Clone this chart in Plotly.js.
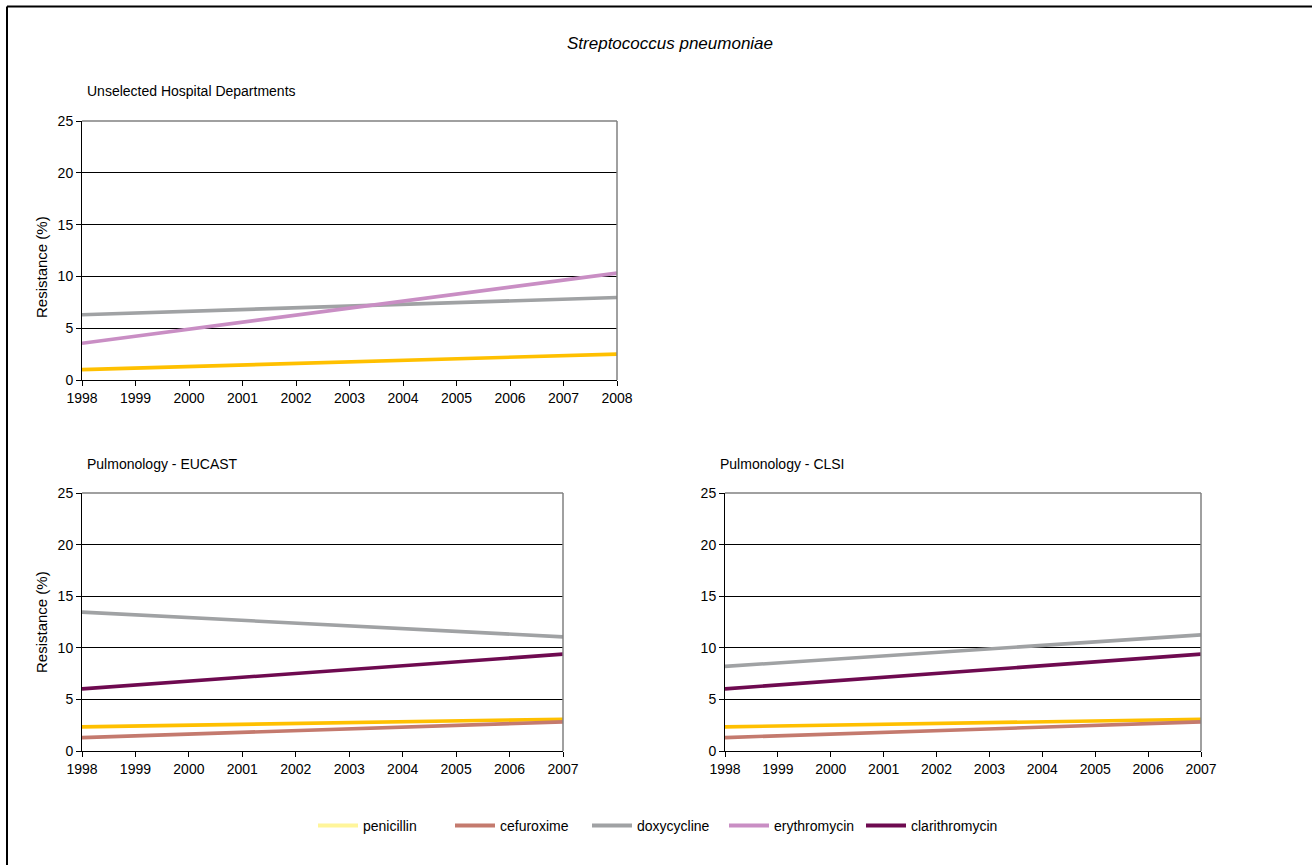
<!DOCTYPE html>
<html>
<head>
<meta charset="utf-8">
<script src="https://cdn.plot.ly/plotly-3.0.1.min.js"></script>
<style>
html,body{margin:0;padding:0;background:#fff;}
#chart{width:1312px;height:865px;}
</style>
</head>
<body>
<div id="chart"></div>
<script>
// ---- data ----
const yearsTop = [1998,1999,2000,2001,2002,2003,2004,2005,2006,2007,2008];
const yearsBottom = [1998,1999,2000,2001,2002,2003,2004,2005,2006,2007];

// Unselected Hospital Departments
const topPenicillin    = [1.0,1.15,1.3,1.45,1.6,1.75,1.9,2.05,2.2,2.35,2.5];
const topDoxycycline   = [6.3,6.47,6.63,6.8,6.97,7.13,7.3,7.47,7.63,7.8,7.97];
const topErythromycin  = [3.55,4.23,4.9,5.58,6.26,6.93,7.61,8.29,8.96,9.64,10.32];

// Pulmonology - EUCAST
const eucPenicillin     = [2.34,2.42,2.5,2.59,2.67,2.75,2.83,2.92,3.0,3.08];
const eucCefuroxime     = [1.3,1.47,1.64,1.8,1.97,2.14,2.31,2.48,2.65,2.82];
const eucDoxycycline    = [13.46,13.19,12.93,12.66,12.39,12.13,11.86,11.59,11.33,11.06];
const eucClarithromycin = [6.02,6.39,6.77,7.14,7.52,7.89,8.27,8.64,9.01,9.39];

// Pulmonology - CLSI
const clsiPenicillin     = [2.34,2.42,2.5,2.59,2.67,2.75,2.83,2.92,3.0,3.08];
const clsiCefuroxime     = [1.3,1.47,1.64,1.8,1.97,2.14,2.31,2.48,2.65,2.82];
const clsiDoxycycline    = [8.2,8.54,8.88,9.22,9.56,9.89,10.23,10.57,10.91,11.25];
const clsiClarithromycin = [6.02,6.39,6.77,7.14,7.52,7.89,8.27,8.64,9.01,9.39];

const seriesNames = ['penicillin','cefuroxime','doxycycline','erythromycin','clarithromycin'];
const yTicks = [0,5,10,15,20,25];

// ---- styles ----
const lineColor = {
  penicillin:'#FFC000', cefuroxime:'#C47A6E', doxycycline:'#A0A2A4',
  erythromycin:'#C98EC4', clarithromycin:'#6E0A50'
};
const legendColor = {
  penicillin:'#FFF59A', cefuroxime:'#C47A6E', doxycycline:'#A0A2A4',
  erythromycin:'#C98EC4', clarithromycin:'#6E0A50'
};
const FONT = '"Liberation Sans", Arial, sans-serif';

function tr(x, y, name, xa, ya){
  return {x:x, y:y, name:name, type:'scatter', mode:'lines', xaxis:xa, yaxis:ya,
    line:{color:lineColor[name], width:3.6}, showlegend:false, hoverinfo:'x+y+name'};
}

const traces = [
  tr(yearsTop, topPenicillin, 'penicillin', 'x', 'y'),
  tr(yearsTop, topDoxycycline, 'doxycycline', 'x', 'y'),
  tr(yearsTop, topErythromycin, 'erythromycin', 'x', 'y'),

  tr(yearsBottom, eucPenicillin, 'penicillin', 'x2', 'y2'),
  tr(yearsBottom, eucCefuroxime, 'cefuroxime', 'x2', 'y2'),
  tr(yearsBottom, eucDoxycycline, 'doxycycline', 'x2', 'y2'),
  tr(yearsBottom, eucClarithromycin, 'clarithromycin', 'x2', 'y2'),

  tr(yearsBottom, clsiPenicillin, 'penicillin', 'x3', 'y3'),
  tr(yearsBottom, clsiCefuroxime, 'cefuroxime', 'x3', 'y3'),
  tr(yearsBottom, clsiDoxycycline, 'doxycycline', 'x3', 'y3'),
  tr(yearsBottom, clsiClarithromycin, 'clarithromycin', 'x3', 'y3'),
];
// legend entries
seriesNames.forEach(n => {
  traces.push({x:[null], y:[null], name:n, type:'scatter', mode:'lines', xaxis:'x', yaxis:'y',
    line:{color:legendColor[n], width:4}, showlegend:true, hoverinfo:'skip'});
});

const W = 1312, H = 865;
const px = v => v / W;
const py = v => 1 - v / H;

function xax(domain, years, anchor){
  return {domain:domain, anchor:anchor, range:[years[0], years[years.length-1]],
    tickvals:years, ticktext:years.map(String), ticks:'outside', ticklen:5, tickcolor:'#000',
    showgrid:false, zeroline:false, showline:true, linecolor:'#000', linewidth:1,
    tickfont:{family:FONT, size:14, color:'#000'}, fixedrange:true};
}
function yax(domain, anchor){
  return {domain:domain, anchor:anchor, range:[0,25], tickvals:yTicks,
    ticks:'outside', ticklen:5, tickcolor:'#000',
    showgrid:true, gridcolor:'#000', gridwidth:1, zeroline:false,
    showline:true, linecolor:'#000', linewidth:1,
    tickfont:{family:FONT, size:14, color:'#000'}, fixedrange:true};
}

const yTopDom = [py(380), py(121)];
const yBotDom = [py(751), py(493)];

function borderShapes(xr, yr){
  return [
    {type:'line', xref:xr+' domain', yref:yr+' domain', x0:0, x1:1, y0:1, y1:1, line:{color:'#808080', width:1.5}},
    {type:'line', xref:xr+' domain', yref:yr+' domain', x0:1, x1:1, y0:0, y1:1, line:{color:'#808080', width:1.5}},
  ];
}

const layout = {
  width:W, height:H,
  margin:{l:0, r:0, t:0, b:0},
  paper_bgcolor:'#fff', plot_bgcolor:'#fff',
  font:{family:FONT, color:'#000'},
  xaxis: xax([px(82), px(617)], yearsTop, 'y'),
  yaxis: yax(yTopDom, 'x'),
  xaxis2: xax([px(82), px(563)], yearsBottom, 'y2'),
  yaxis2: yax(yBotDom, 'x2'),
  xaxis3: xax([px(725), px(1201)], yearsBottom, 'y3'),
  yaxis3: yax(yBotDom, 'x3'),
  showlegend:true,
  legend:{orientation:'h', x:px(313), xanchor:'left', y:py(826), yanchor:'middle',
    font:{family:FONT, size:14, color:'#000'}, bgcolor:'rgba(0,0,0,0)', itemwidth:40,
    entrywidthmode:'pixels', entrywidth:82, tracegroupgap:0},
  annotations:[
    {text:'<i>Streptococcus pneumoniae</i>', xref:'paper', yref:'paper', x:px(670), y:py(44),
     xanchor:'center', yanchor:'middle', showarrow:false, font:{family:FONT, size:17, color:'#000'}},
    {text:'Unselected Hospital Departments', xref:'paper', yref:'paper', x:px(85), y:py(91),
     xanchor:'left', yanchor:'middle', showarrow:false, font:{family:FONT, size:14, color:'#000'}},
    {text:'Pulmonology - EUCAST', xref:'paper', yref:'paper', x:px(85), y:py(464),
     xanchor:'left', yanchor:'middle', showarrow:false, font:{family:FONT, size:14, color:'#000'}},
    {text:'Pulmonology - CLSI', xref:'paper', yref:'paper', x:px(718), y:py(464),
     xanchor:'left', yanchor:'middle', showarrow:false, font:{family:FONT, size:14, color:'#000'}},
    {text:'Resistance (%)', xref:'paper', yref:'paper', x:px(41), y:py(267), textangle:-90,
     xanchor:'center', yanchor:'middle', showarrow:false, font:{family:FONT, size:15, color:'#000'}},
    {text:'Resistance (%)', xref:'paper', yref:'paper', x:px(41), y:py(622), textangle:-90,
     xanchor:'center', yanchor:'middle', showarrow:false, font:{family:FONT, size:15, color:'#000'}},
  ],
  shapes:[].concat(
    borderShapes('x','y'), borderShapes('x2','y2'), borderShapes('x3','y3'),
    [
      {type:'line', xref:'paper', yref:'paper', x0:px(7), x1:1.01, y0:py(6.5), y1:py(6.5), line:{color:'#000', width:2}},
      {type:'line', xref:'paper', yref:'paper', x0:px(7), x1:px(7), y0:py(6.5), y1:-0.01, line:{color:'#000', width:2}},
    ]
  )
};

Plotly.newPlot('chart', traces, layout, {displayModeBar:false, staticPlot:true});
</script>
</body>
</html>
